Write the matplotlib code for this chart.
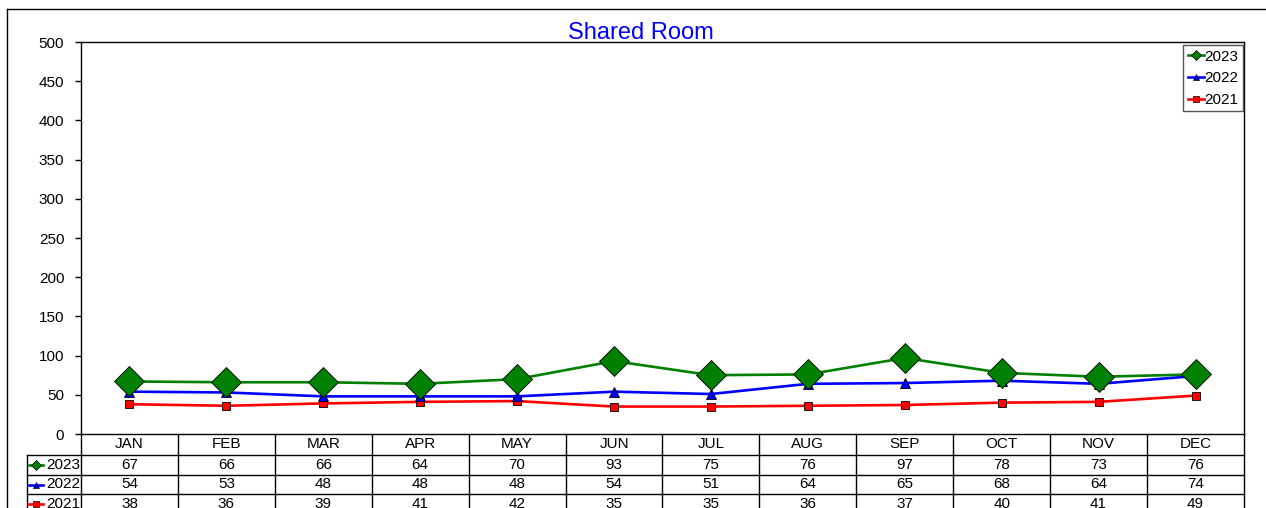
import matplotlib
matplotlib.use("Agg")
import matplotlib.pyplot as plt
from matplotlib.lines import Line2D
import matplotlib.transforms as mtrans

plt.rcParams['font.family'] = ['Liberation Sans', 'DejaVu Sans']

months = ["JAN", "FEB", "MAR", "APR", "MAY", "JUN", "JUL", "AUG", "SEP", "OCT", "NOV", "DEC"]
v2023 = [67, 66, 66, 64, 70, 93, 75, 76, 97, 78, 73, 76]
v2022 = [54, 53, 48, 48, 48, 54, 51, 64, 65, 68, 64, 74]
v2021 = [38, 36, 39, 41, 42, 35, 35, 36, 37, 40, 41, 49]
yticks = list(range(0, 501, 50))

W, H = 1266, 508
fig = plt.figure(figsize=(W / 100, H / 100), dpi=100)

def fx(px):
    return px / W

def fy(py):
    return 1 - py / H

L, R, T, B = 81, 1244, 42, 434
ax = fig.add_axes([fx(L), fy(B), fx(R) - fx(L), fy(T) - fy(B)])

FS = 11
series = [
    ("2023", v2023, "#008000", "D", 15, 5),
    ("2022", v2022, "#0000FF", "^", 7, 5),
    ("2021", v2021, "#FF0000", "s", 6, 5),
]
x = list(range(len(months)))
for name, vals, col, mk, ms, _ in reversed(series):
    ax.plot(x, vals, color=col, lw=1.9, marker=mk, markersize=ms,
            markerfacecolor=col, markeredgecolor="black", markeredgewidth=0.6,
            zorder=3)

ax.set_xlim(-0.5, len(months) - 0.5)
ax.set_ylim(0, 500)
ax.set_yticks(yticks)
ax.set_xticks([])
ax.tick_params(axis='y', direction='out', length=4, width=1, labelsize=FS, pad=8)
for s in ax.spines.values():
    s.set_linewidth(1)
    s.set_color("black")

handles = [Line2D([0], [0], color=col, lw=1.9, marker=mk, markersize=sm,
                  markerfacecolor=col, markeredgecolor="black", markeredgewidth=0.5)
           for name, vals, col, mk, ms, sm in series]
leg = ax.legend(handles, [s[0] for s in series], loc="upper right",
                bbox_to_anchor=(fx(1243), fy(45)), bbox_transform=fig.transFigure,
                fancybox=False, framealpha=1, edgecolor="#555555", fontsize=FS,
                handlelength=1.1, handletextpad=0.0, borderpad=0.3,
                labelspacing=0.5, borderaxespad=0)
leg.get_frame().set_linewidth(1)

fig.text(fx(641), fy(33), "Shared Room", color="#0000FF", fontsize=17,
         ha="center", va="center")

fig.add_artist(Line2D([fx(7), fx(W)], [fy(9), fy(9)], color="black", lw=1,
                      transform=fig.transFigure))
fig.add_artist(Line2D([fx(7), fx(7)], [fy(9), fy(H + 5)], color="black", lw=1,
                      transform=fig.transFigure))

bt = mtrans.blended_transform_factory(ax.transData, fig.transFigure)
row_top = [434, 455, 475, 494]
row_bot = [455, 475, 494, 514]
tab_left = 27
for yy in [455, 475, 494]:
    fig.add_artist(Line2D([fx(tab_left), fx(R)], [fy(yy), fy(yy)], color="black",
                          lw=1, transform=fig.transFigure))
for k in range(len(months) + 1):
    xb = -0.5 + k
    fig.add_artist(Line2D([xb, xb], [fy(434), fy(H + 5)], color="black", lw=1,
                          transform=bt))
fig.add_artist(Line2D([fx(tab_left), fx(tab_left)], [fy(455), fy(H + 5)],
                      color="black", lw=1, transform=fig.transFigure))

hc = (row_top[0] + row_bot[0]) / 2
for i, m in enumerate(months):
    fig.text(i, fy(hc), m, transform=bt, ha="center", va="center", fontsize=FS)

for r, (name, vals, col, mk, ms, sm) in enumerate(series):
    cy = (row_top[r + 1] + row_bot[r + 1]) / 2
    for i, v in enumerate(vals):
        fig.text(i, fy(cy), str(v), transform=bt, ha="center", va="center",
                 fontsize=FS)
    fig.add_artist(Line2D([fx(29), fx(43)], [fy(cy), fy(cy)], color=col, lw=1.9,
                          transform=fig.transFigure))
    fig.add_artist(Line2D([fx(36)], [fy(cy)], color=col, marker=mk, markersize=sm,
                          markerfacecolor=col, markeredgecolor="black",
                          markeredgewidth=0.5, transform=fig.transFigure))
    fig.text(fx(80), fy(cy), name, ha="right", va="center", fontsize=FS)

fig.savefig("out.png", dpi=100)
